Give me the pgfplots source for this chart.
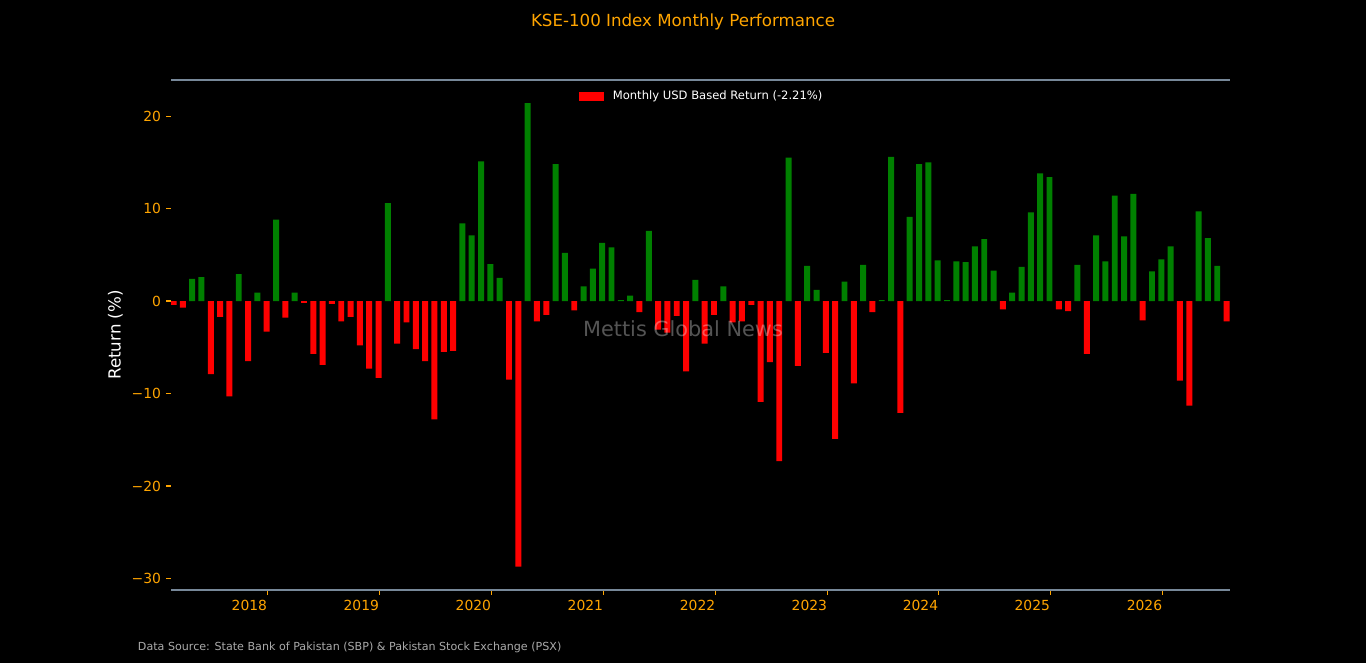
\documentclass[border=0pt]{standalone}
\usepackage{pgfplots}
\pgfplotsset{compat=1.18}
\usepackage{pgfplotstable}
\usepackage{fontspec}
\setmainfont{DejaVu Sans}
\definecolor{spine}{RGB}{119,136,153}
\definecolor{tickorange}{RGB}{255,165,0}
\definecolor{mplgreen}{RGB}{0,128,0}
\definecolor{footgray}{RGB}{170,170,170}

\pgfplotstableread{
idx ret
2 2.4
3 2.6
7 2.9
9 0.9
11 8.8
13 0.9
23 10.6
31 8.4
32 7.1
33 15.1
34 4.0
35 2.5
38 21.4
41 14.8
42 5.2
44 1.6
45 3.5
46 6.3
47 5.8
48 0.1
49 0.6
51 7.6
56 2.3
59 1.6
66 15.5
68 3.8
69 1.2
72 2.1
74 3.9
76 0.1
77 15.6
79 9.1
80 14.8
81 15.0
82 4.4
83 0.1
84 4.3
85 4.2
86 5.9
87 6.7
88 3.3
90 0.9
91 3.7
92 9.6
93 13.8
94 13.4
97 3.9
99 7.1
100 4.3
101 11.4
102 7.0
103 11.6
105 3.2
106 4.5
107 5.9
110 9.7
111 6.8
112 3.8
}\posdata

\pgfplotstableread{
idx ret
0 -0.4
1 -0.7
4 -7.9
5 -1.7
6 -10.3
8 -6.5
10 -3.3
12 -1.8
14 -0.2
15 -5.7
16 -6.9
17 -0.3
18 -2.2
19 -1.7
20 -4.8
21 -7.3
22 -8.3
24 -4.6
25 -2.3
26 -5.2
27 -6.5
28 -12.8
29 -5.5
30 -5.4
36 -8.5
37 -28.7
39 -2.2
40 -1.5
43 -1.0
50 -1.2
52 -3.1
53 -3.4
54 -1.6
55 -7.6
57 -4.6
58 -1.5
60 -2.3
61 -2.2
62 -0.4
63 -10.9
64 -6.6
65 -17.3
67 -7.0
70 -5.6
71 -14.9
73 -8.9
75 -1.2
78 -12.1
89 -0.9
95 -0.9
96 -1.1
98 -5.7
104 -2.1
108 -8.6
109 -11.3
113 -2.21
}\negdata

\begin{document}
\begin{tikzpicture}
\fill[black] (0,0) rectangle (983.52pt,477.36pt);
\useasboundingbox (0,0) rectangle (983.52pt,477.36pt);
\begin{axis}[
  at={(123.12pt,52.56pt)}, anchor=south west,
  scale only axis, width=762.48pt, height=367.2pt,
  xmin=-0.27, xmax=113.37, ymin=-31.24, ymax=23.9,
  separate axis lines,
  x axis line style={draw=spine, line width=0.8pt},
  y axis line style={draw=none},
  xtick pos=left, ytick pos=left,
  tick align=outside,
  major tick length=3.5pt,
  tick style={draw=tickorange, line width=0.8pt},
  xtick={10.07,22.08,34.10,46.12,58.16,70.16,82.08,94.08,106.12},
  xticklabels={2018,2019,2020,2021,2022,2023,2024,2025,2026},
  ytick={-30,-20,-10,0,10,20},
  yticklabels={−30,−20,−10,0,10,20},
  xticklabel style={anchor=north east, inner sep=0pt, yshift=-3.5pt, text=tickorange, font=\fontsize{10}{12}\selectfont},
  yticklabel style={anchor=east, inner sep=0pt, xshift=-3.5pt, text=tickorange, font=\fontsize{10}{12}\selectfont},
  legend style={at={(0.5,1)}, anchor=north, yshift=-7.6pt, draw=none, fill=black,
    inner sep=0pt, column sep=7pt,
    nodes={inner sep=0pt, text=white, font=\fontsize{8.33}{10}\selectfont}},
]
\addplot[ybar, bar width=0.64, bar shift=0pt, draw=none, fill=mplgreen, forget plot] table[x=idx, y=ret] {\posdata};
\addplot[ybar, bar width=0.64, bar shift=0pt, draw=none, fill=red, forget plot] table[x=idx, y=ret] {\negdata};
\addlegendimage{legend image code/.code={\fill[red] (0pt,-2.65pt) rectangle (17.3pt,2.65pt);}}
\addlegendentry{Monthly USD Based Return (-2.21\%)}
\end{axis}
\node[anchor=base, text=tickorange, font=\fontsize{12}{14}\selectfont, inner sep=0pt] at (491.76pt,458.16pt) {KSE-100 Index Monthly Performance};
\node[rotate=90, text=white, font=\fontsize{12}{14}\selectfont, inner sep=0pt] at (83.16pt,236.16pt) {Return (\%)};
\node[anchor=base, text=white, text opacity=0.33, font=\fontsize{15}{17}\selectfont, inner sep=0pt] at (491.76pt,234.9pt) {Mettis Global News};
\node[anchor=base west, text=footgray, font=\fontsize{8}{10}\selectfont, inner sep=0pt] at (99.14pt,8.86pt) {Data Source: State Bank of Pakistan (SBP) \& Pakistan Stock Exchange (PSX)};
\end{tikzpicture}
\end{document}
